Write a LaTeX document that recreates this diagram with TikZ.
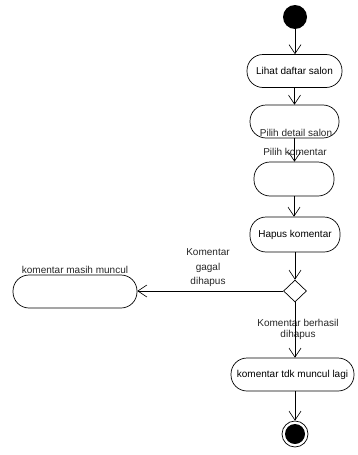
\documentclass[tikz,border=0pt]{standalone}
\usepackage{fontspec}
\setmainfont{Liberation Sans}
\usetikzlibrary{arrows.meta,shapes.geometric}
\begin{document}
\begin{tikzpicture}[x=1pt,y=-1pt,
  act/.style={draw, line width=0.7pt, rounded corners=16pt, minimum height=33pt, inner sep=0pt, font=\fontsize{10pt}{11pt}\selectfont},
  lbl/.style={font=\fontsize{10pt}{11pt}\selectfont, inner sep=0pt, align=center, text=black!85},
  flow/.style={-{Straight Barb[length=9pt,width=12pt]}, line width=0.6pt}]
\useasboundingbox (0,0) rectangle (358,455);
\node[circle, fill, minimum size=24pt, inner sep=0pt] (start) at (295,17) {};
\node[act, minimum width=95pt] (a1) at (294.5,71) {Lihat daftar salon};
\node[act, minimum width=89pt] (a2) at (294.5,121.5) {};
\node[act, minimum width=80pt, minimum height=34pt] (a3) at (294,179) {};
\node[act, minimum width=90pt, minimum height=35pt] (a4) at (295,234.5) {Hapus komentar};
\node[diamond, draw, line width=0.7pt, minimum width=23pt, minimum height=22pt, inner sep=0pt] (d) at (295,291) {};
\node[act, minimum width=124pt] (left) at (75,291.5) {};
\node[act, minimum width=123pt] (a5) at (292.5,374.5) {komentar tdk muncul lagi};
\node[circle, draw, line width=0.7pt, minimum size=26pt, inner sep=0pt] (end) at (295,434) {};
\node[circle, fill, minimum size=20pt, inner sep=0pt] (endin) at (295,434) {};
\node[lbl] (l2) at (296,133) {Pilih detail salon};
\node[lbl] (l3) at (295,152) {Pilih komentar};
\node[lbl] (lleft) at (75,270) {komentar masih muncul};
\node[lbl, font=\fontsize{10pt}{14.5pt}\selectfont] (lgagal) at (208,268) {Komentar\\gagal\\dihapus};
\node[lbl] (lber) at (298,329.5) {Komentar berhasil\\dihapus};
\draw[flow] (start.south) -- (start.south |- a1.north);
\draw[flow] (a1.south) -- (a1.south |- a2.north);
\draw[flow] (a2.south) -- (a2.south |- a3.north);
\draw[flow] (a3.south) -- (a3.south |- a4.north);
\draw[flow] (a4.south) -- (d.north);
\draw[flow] (d.west) -- (left.east |- d.west);
\draw[flow] (d.south) -- (d.south |- a5.north);
\draw[flow] (a5.south -| end.north) -- (end.north);
\end{tikzpicture}
\end{document}
